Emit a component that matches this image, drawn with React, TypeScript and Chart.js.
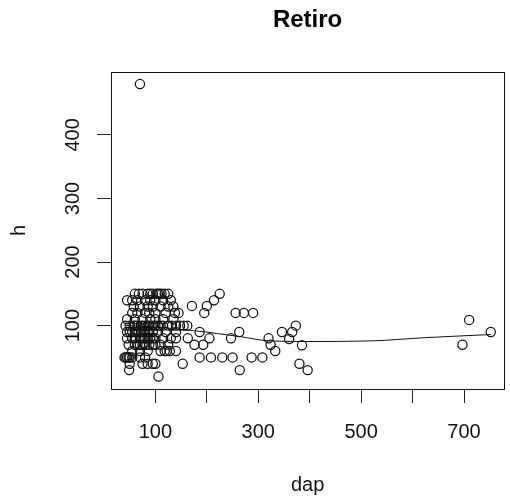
import React, { useEffect, useRef } from 'react';
import { Chart, registerables } from 'chart.js';

Chart.register(...registerables);

const chartTitle = 'Retiro';
const xAxisTitle = 'dap';
const yAxisTitle = 'h';

const xTickValues = [100, 200, 300, 400, 500, 600, 700];
const xTickLabels = ['100', '', '300', '', '500', '', '700'];
const yTickValues = [100, 200, 300, 400];
const yTickLabels = ['100', '200', '300', '400'];

const xRange = [13.7, 778];
const yRange = [0.3, 499];

// observed trees: diameter (dap) and height (h)
const dap = [
  60, 68, 75, 85, 90, 95, 102, 105, 108, 112, 118, 125,
  45, 55, 65, 80, 90, 100, 115, 130,
  58, 70, 85, 95, 110, 125, 135,
  55, 65, 80, 88, 100, 120, 138, 145,
  45, 60, 75, 90, 100, 115, 135,
  42, 50, 58, 60, 65, 72, 75, 80, 85, 88, 95, 100, 105, 110, 115, 125, 132, 140, 148, 155, 162,
  45, 50, 55, 60, 65, 72, 75, 80, 85, 88, 95, 105, 120, 140,
  45, 55, 60, 70, 75, 80, 85, 90, 95, 100, 115, 130, 140, 163,
  48, 60, 65, 70, 75, 80, 88, 95, 100, 110, 125, 176, 193,
  55, 70, 85, 110, 118, 122, 128, 140,
  40, 42, 45, 48, 50, 55, 70, 80, 186, 208, 230, 250, 287, 308,
  50, 75, 85, 95, 100, 153, 380,
  49, 264, 396,
  106,
  70, 225, 214, 200, 171, 195, 256, 272, 290, 186, 263, 205, 247, 320,
  324, 333, 346, 360, 366, 373, 385, 697, 710, 752,
];
const h = [
  150, 150, 150, 150, 150, 150, 150, 150, 150, 150, 150, 150,
  140, 140, 140, 140, 140, 140, 140, 140,
  130, 130, 130, 130, 130, 130, 130,
  120, 120, 120, 120, 120, 120, 120, 120,
  110, 110, 110, 110, 110, 110, 110,
  100, 100, 100, 100, 100, 100, 100, 100, 100, 100, 100, 100, 100, 100, 100, 100, 100, 100, 100, 100, 100,
  90, 90, 90, 90, 90, 90, 90, 90, 90, 90, 90, 90, 90, 90,
  80, 80, 80, 80, 80, 80, 80, 80, 80, 80, 80, 80, 80, 80,
  70, 70, 70, 70, 70, 70, 70, 70, 70, 70, 70, 70, 70,
  60, 60, 60, 60, 60, 60, 60, 60,
  50, 50, 50, 50, 50, 50, 50, 50, 50, 50, 50, 50, 50, 50,
  40, 40, 40, 40, 40, 40, 40,
  30, 30, 30,
  20,
  480, 150, 140, 131, 131, 120, 120, 120, 120, 90, 90, 80, 80, 80,
  70, 60, 90, 79, 90, 100, 69, 70, 109, 90,
];

// smoothed curve
const smoothDap = [42, 100, 150, 198, 243, 263, 321, 391, 520, 623, 752];
const smoothH = [100, 98, 94, 90, 85, 83, 76, 75, 76, 81, 86];

const FONT = '"Liberation Sans", Arial, Helvetica, sans-serif';

export default function App() {
  const ref = useRef<HTMLCanvasElement | null>(null);

  useEffect(() => {
    const canvas = ref.current;
    if (!canvas) return;

    const framePlugin = {
      id: 'rframe',
      afterDraw(chart: any) {
        const { ctx, chartArea } = chart;
        const { left, right, top, bottom } = chartArea;
        ctx.save();
        ctx.strokeStyle = '#111';
        ctx.lineWidth = 1;
        ctx.strokeRect(Math.round(left) + 0.5, Math.round(top) + 0.5, Math.round(right - left), Math.round(bottom - top));
        ctx.fillStyle = '#000';
        ctx.font = `bold 24px ${FONT}`;
        ctx.textAlign = 'center';
        ctx.textBaseline = 'middle';
        ctx.fillText(chartTitle, (left + right) / 2, 20);
        ctx.restore();
      },
    };

    const chart = new Chart(canvas, {
      type: 'scatter',
      data: {
        datasets: [
          {
            type: 'scatter',
            data: dap.map((x, i) => ({ x, y: h[i] })),
            pointRadius: 4.6,
            pointHoverRadius: 4.6,
            borderWidth: 1.25,
            borderColor: '#111',
            backgroundColor: 'rgba(0,0,0,0)',
          },
          {
            type: 'line',
            data: smoothDap.map((x, i) => ({ x, y: smoothH[i] })),
            showLine: true,
            pointRadius: 0,
            borderWidth: 1,
            borderColor: '#111',
            backgroundColor: 'rgba(0,0,0,0)',
            cubicInterpolationMode: 'monotone',
          } as any,
        ],
      },
      options: {
        animation: false,
        responsive: false,
        devicePixelRatio: 1,
        layout: { padding: { top: 72, right: 3, left: 0, bottom: 0 } },
        plugins: {
          legend: { display: false },
          tooltip: { enabled: false },
          title: { display: false },
        },
        scales: {
          x: {
            type: 'linear',
            min: xRange[0],
            max: xRange[1],
            afterBuildTicks: (s: any) => {
              s.ticks = xTickValues.map((v) => ({ value: v }));
            },
            afterFit: (s: any) => {
              s.height = 113;
            },
            grid: {
              display: true,
              drawOnChartArea: false,
              drawTicks: true,
              tickLength: 14,
              tickColor: '#222',
              tickWidth: 1,
            },
            border: { display: false },
            ticks: {
              autoSkip: false,
              maxRotation: 0,
              minRotation: 0,
              padding: 17,
              color: '#111',
              font: { family: FONT, size: 20 },
              callback: (v: any) => {
                const i = xTickValues.indexOf(Number(v));
                return i >= 0 ? xTickLabels[i] : '';
              },
            },
            title: {
              display: true,
              text: xAxisTitle,
              color: '#111',
              font: { family: FONT, size: 20 },
              padding: { top: 0, bottom: 5 },
            },
          },
          y: {
            type: 'linear',
            min: yRange[0],
            max: yRange[1],
            afterBuildTicks: (s: any) => {
              s.ticks = yTickValues.map((v) => ({ value: v }));
            },
            afterFit: (s: any) => {
              s.width = 111;
            },
            grid: {
              display: true,
              drawOnChartArea: false,
              drawTicks: true,
              tickLength: 14,
              tickColor: '#222',
              tickWidth: 1,
            },
            border: { display: false },
            ticks: {
              autoSkip: false,
              minRotation: 90,
              maxRotation: 90,
              crossAlign: 'center',
              padding: 7,
              color: '#111',
              font: { family: FONT, size: 20 },
              callback: (v: any) => {
                const i = yTickValues.indexOf(Number(v));
                return i >= 0 ? yTickLabels[i] : '';
              },
            },
            title: {
              display: true,
              text: yAxisTitle,
              color: '#111',
              font: { family: FONT, size: 20 },
              padding: { top: 7, bottom: 0 },
            },
          },
        },
      },
      plugins: [framePlugin],
    });

    return () => chart.destroy();
  }, []);

  return (
    <div style={{ position: 'fixed', left: 0, top: 0, width: 510, height: 502, background: '#fff' }}>
      <canvas ref={ref} width={510} height={502} style={{ display: 'block', width: 510, height: 502 }} />
    </div>
  );
}
